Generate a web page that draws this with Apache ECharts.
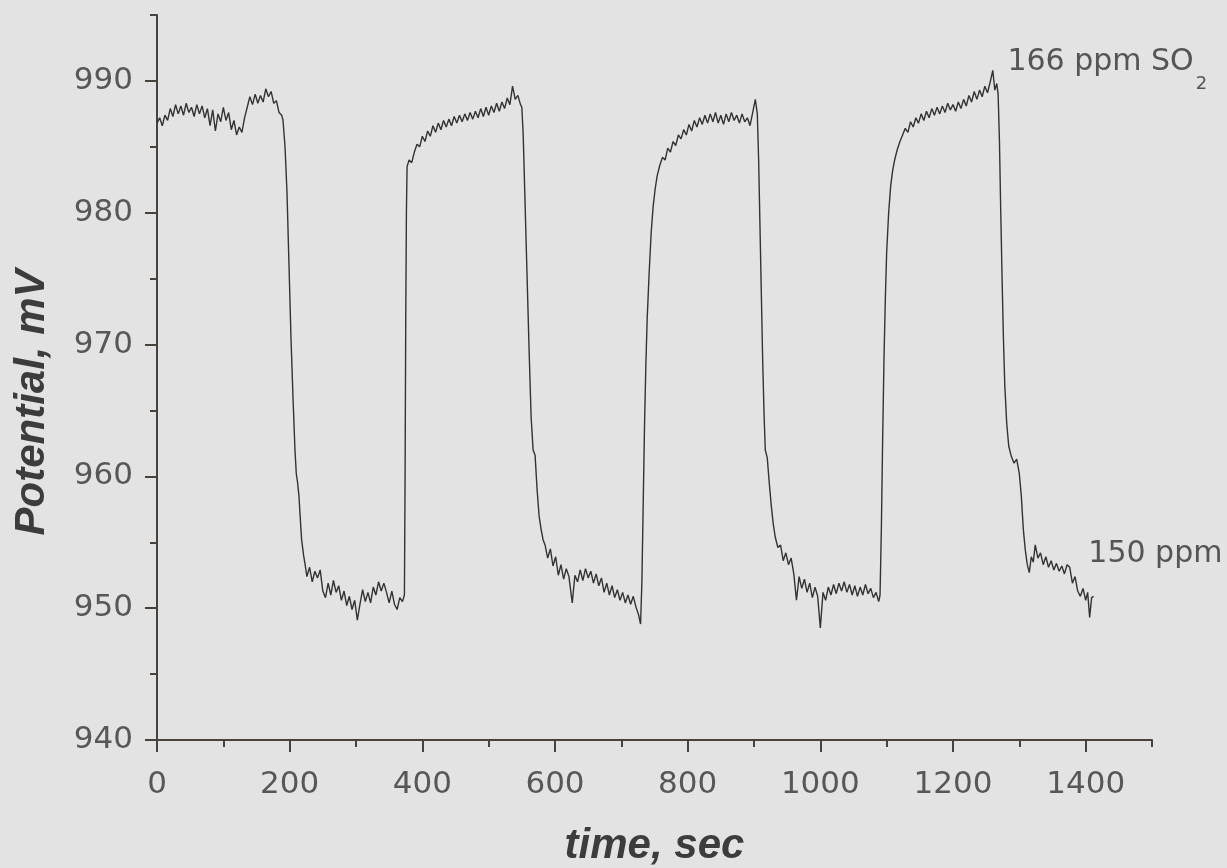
<!DOCTYPE html>
<html><head><meta charset="utf-8">
<script src="https://cdn.jsdelivr.net/npm/echarts@6/dist/echarts.min.js"></script>
<style>html,body{margin:0;padding:0;background:#e3e3e3}#chart{width:1227px;height:868px}</style>
</head><body><div id="chart"></div>
<script>
// time, sec
const timeSec = [
 0,4,8,12,16,20,24,28,32,36,40,44,48,52,56,60,64,68,72,76,80,84,88,92,96,100,104,108,112,116,120,124,128,132,136,140,144,148,152,156,160,164,168,172,176,180,184,188,
 190,193,196,199,202,205,208,210,212,214,216,218,221,223,
 226,230,234,238,242,246,250,254,258,262,266,270,274,278,282,286,290,294,298,302,306,310,314,318,322,326,330,334,338,342,346,350,354,358,362,366,370,
 373,374,375,376,377,
 380,384,388,392,396,400,404,408,412,416,420,424,428,432,436,440,444,448,452,456,460,464,468,472,476,480,484,488,492,496,500,504,508,512,516,520,524,528,532,536,540,544,548,550,
 552,555,558,561,564,567,570,573,576,579,582,585,
 589,593,597,601,605,609,613,617,621,626,630,634,638,642,646,650,654,658,662,666,670,674,678,682,686,690,694,698,702,706,710,714,718,722,726,729,
 731,733,735,737,739,742,745,748,751,754,758,
 762,766,770,774,778,782,786,790,794,798,802,806,810,814,818,822,826,830,834,838,842,846,850,854,858,862,866,870,874,878,882,886,890,894,898,902,905,
 907,909,911,913,915,917,920,923,926,929,932,936,
 940,944,948,952,956,960,964,968,972,976,980,984,988,992,996,1000,1004,1008,1012,1016,1020,1024,1028,1032,1036,1040,1044,1048,1052,1056,1060,1064,1068,1072,1076,1080,1084,1088,1090,
 1092,1094,1096,1098,1100,1103,1106,1109,1112,
 1116,1120,1124,1128,1132,1136,1140,1144,1148,1152,1156,1160,1164,1168,1172,1176,1180,1184,1188,1192,1196,1200,1204,1208,1212,1216,1220,1224,1228,1232,1236,1240,1244,1248,1252,1256,1260,1263,1266,1268,
 1270,1272,1274,1276,1278,1281,1284,1288,1292,1296,1300,1303,1306,1309,1312,1315,
 1318,1321,1324,1328,1332,1336,1340,1344,1348,1352,1356,1360,1364,1368,1372,1376,1380,1384,1388,1392,1396,1400,1403,1406,1409,1412
];
// Potential, mV
const potentialMV = [
 986.8,987.2,986.6,987.4,987.0,987.9,987.3,988.2,987.5,988.1,987.4,988.3,987.6,988.0,987.3,988.2,987.5,988.1,987.2,987.9,986.6,987.8,986.2,987.5,986.9,988.0,987.0,987.6,986.3,987.0,985.9,986.5,986.1,987.2,988.0,988.8,988.2,989.0,988.3,988.9,988.4,989.4,988.8,989.2,988.3,988.5,987.6,987.4,
 987.0,985.0,981.5,976.0,970.5,966.0,962.0,960.2,959.5,958.5,956.8,955.2,954.0,953.4,
 952.4,953.1,952.0,952.8,952.3,952.9,951.3,950.8,951.9,951.0,952.1,951.2,951.7,950.6,951.3,950.2,950.9,949.9,950.6,949.1,950.3,951.4,950.5,951.2,950.4,951.6,951.0,952.0,951.3,951.9,951.2,950.4,951.3,950.3,949.9,950.8,950.5,
 951.0,960.0,972.0,980.0,983.5,
 984.0,983.8,984.6,985.2,985.0,985.8,985.4,986.2,985.8,986.6,986.1,986.8,986.3,987.0,986.5,987.1,986.6,987.3,986.8,987.4,986.9,987.5,987.0,987.6,987.1,987.7,987.2,987.9,987.3,988.0,987.4,988.1,987.6,988.3,987.7,988.4,987.9,988.7,988.2,989.6,988.6,988.9,988.2,988.0,
 986.0,980.5,975.0,969.5,964.5,962.0,961.6,959.0,957.0,956.0,955.2,954.8,
 953.8,954.5,953.2,953.9,952.5,953.3,952.2,953.0,952.4,950.4,952.5,952.0,952.9,952.1,953.0,952.3,952.8,951.9,952.6,951.7,952.3,951.2,951.9,951.0,951.7,950.8,951.4,950.6,951.2,950.4,951.0,950.3,950.9,950.1,949.5,948.8,
 952.0,958.0,964.0,968.5,972.0,975.5,978.5,980.5,981.8,982.8,983.6,
 984.2,984.0,984.9,984.6,985.4,985.1,985.9,985.6,986.3,985.9,986.7,986.2,987.0,986.5,987.2,986.7,987.4,986.8,987.5,986.9,987.6,986.8,987.4,986.7,987.5,986.9,987.6,987.0,987.4,986.8,987.5,986.9,987.2,986.6,987.6,988.6,987.5,
 984.0,979.0,974.0,969.0,965.0,962.0,961.4,959.5,957.8,956.4,955.4,954.6,
 954.8,953.6,954.2,953.3,953.8,952.6,950.6,952.4,951.5,952.2,951.2,951.9,950.8,951.6,950.9,948.5,951.2,950.6,951.6,951.0,951.8,951.1,951.9,951.3,952.0,951.2,951.8,951.0,951.7,950.9,951.6,951.0,951.8,951.1,951.5,950.8,951.2,950.5,951.0,
 956.0,963.0,969.0,973.5,977.0,980.0,982.0,983.2,984.0,
 984.8,985.4,985.9,986.4,986.1,986.9,986.5,987.2,986.8,987.5,987.0,987.7,987.2,987.9,987.4,988.0,987.5,988.1,987.6,988.3,987.8,988.2,987.7,988.4,987.9,988.6,988.1,988.9,988.4,989.2,988.6,989.3,988.8,989.6,989.1,989.9,990.8,989.3,989.8,989.0,
 985.5,980.0,975.0,970.5,967.0,964.0,962.3,961.5,961.0,961.3,960.2,958.5,956.0,954.4,953.3,952.7,
 953.9,953.5,954.8,953.8,954.2,953.3,953.9,953.1,953.6,952.9,953.4,952.8,953.2,952.6,953.3,953.1,951.9,952.4,951.3,950.9,951.5,950.6,951.2,949.3,950.8,950.9
];
const xMajorTicks = [0,200,400,600,800,1000,1200,1400];
const yMajorTicks = [940,950,960,970,980,990];

const axisColor = '#48423f';
const tickFont = {fontFamily:'DejaVu Sans', fontSize:31, color:'#575757'};
const titleFont = {fontFamily:'Liberation Sans', fontStyle:'italic', fontWeight:'bold', fontSize:42, color:'#3c3c3c'};
const annFont = {fontFamily:'DejaVu Sans', fontSize:30, color:'#555555'};

const chart = echarts.init(document.getElementById('chart'), null, {renderer:'canvas'});
chart.setOption({
  backgroundColor:'#e3e3e3',
  animation:false,
  grid:{left:157, right:75, top:15, bottom:128, containLabel:false, outerBoundsMode:'none'},
  xAxis:[{
    type:'value', min:0, max:1500, interval:100,
    name:'time, sec', nameLocation:'middle', nameGap:85, nameTextStyle:titleFont,
    axisLine:{show:true, onZero:false, lineStyle:{color:axisColor, width:2}},
    axisTick:{show:true, length:12, customValues:xMajorTicks, lineStyle:{color:axisColor, width:2}},
    axisLabel:{show:true, customValues:xMajorTicks, margin:29, formatter:(v)=>String(v), ...tickFont},
    splitLine:{show:false}
  },{
    type:'value', min:0, max:1500, interval:100, position:'bottom', gridIndex:0,
    axisLine:{show:false}, axisTick:{show:true, length:7, lineStyle:{color:axisColor, width:2}},
    axisLabel:{show:false}, splitLine:{show:false}
  }],
  yAxis:[{
    type:'value', min:940, max:995, interval:5,
    name:'Potential, mV', nameLocation:'middle', nameGap:104, nameTextStyle:{...titleFont, padding:[0,50,0,0]},
    axisLine:{show:true, onZero:false, lineStyle:{color:axisColor, width:2}},
    axisTick:{show:true, length:12, customValues:yMajorTicks, lineStyle:{color:axisColor, width:2}},
    axisLabel:{show:true, customValues:yMajorTicks, margin:24, formatter:(v)=>String(v), ...tickFont},
    splitLine:{show:false}
  },{
    type:'value', min:940, max:995, interval:5, position:'left', gridIndex:0,
    axisLine:{show:false}, axisTick:{show:true, length:7, lineStyle:{color:axisColor, width:2}},
    axisLabel:{show:false}, splitLine:{show:false}
  }],
  series:[{
    type:'line', xAxisIndex:0, yAxisIndex:0,
    data: timeSec.map((t,i)=>[t, potentialMV[i]]),
    showSymbol:false, symbol:'none', smooth:false,
    lineStyle:{color:'#333333', width:1.4},
    markPoint:{
      symbol:'circle', symbolSize:0, silent:true,
      label:{show:true, position:'right', distance:0,
        rich:{m:annFont, s:{fontFamily:'DejaVu Sans', fontSize:18, color:'#555555', padding:[44,0,0,2]}}},
      data:[
        {coord:[1282, 991.4], label:{formatter:'{m|166 ppm SO}{s|2}'}},
        {coord:[1404, 954.1], label:{formatter:'{m|150 ppm}'}}
      ]
    }
  }]
});
</script>
</body></html>
